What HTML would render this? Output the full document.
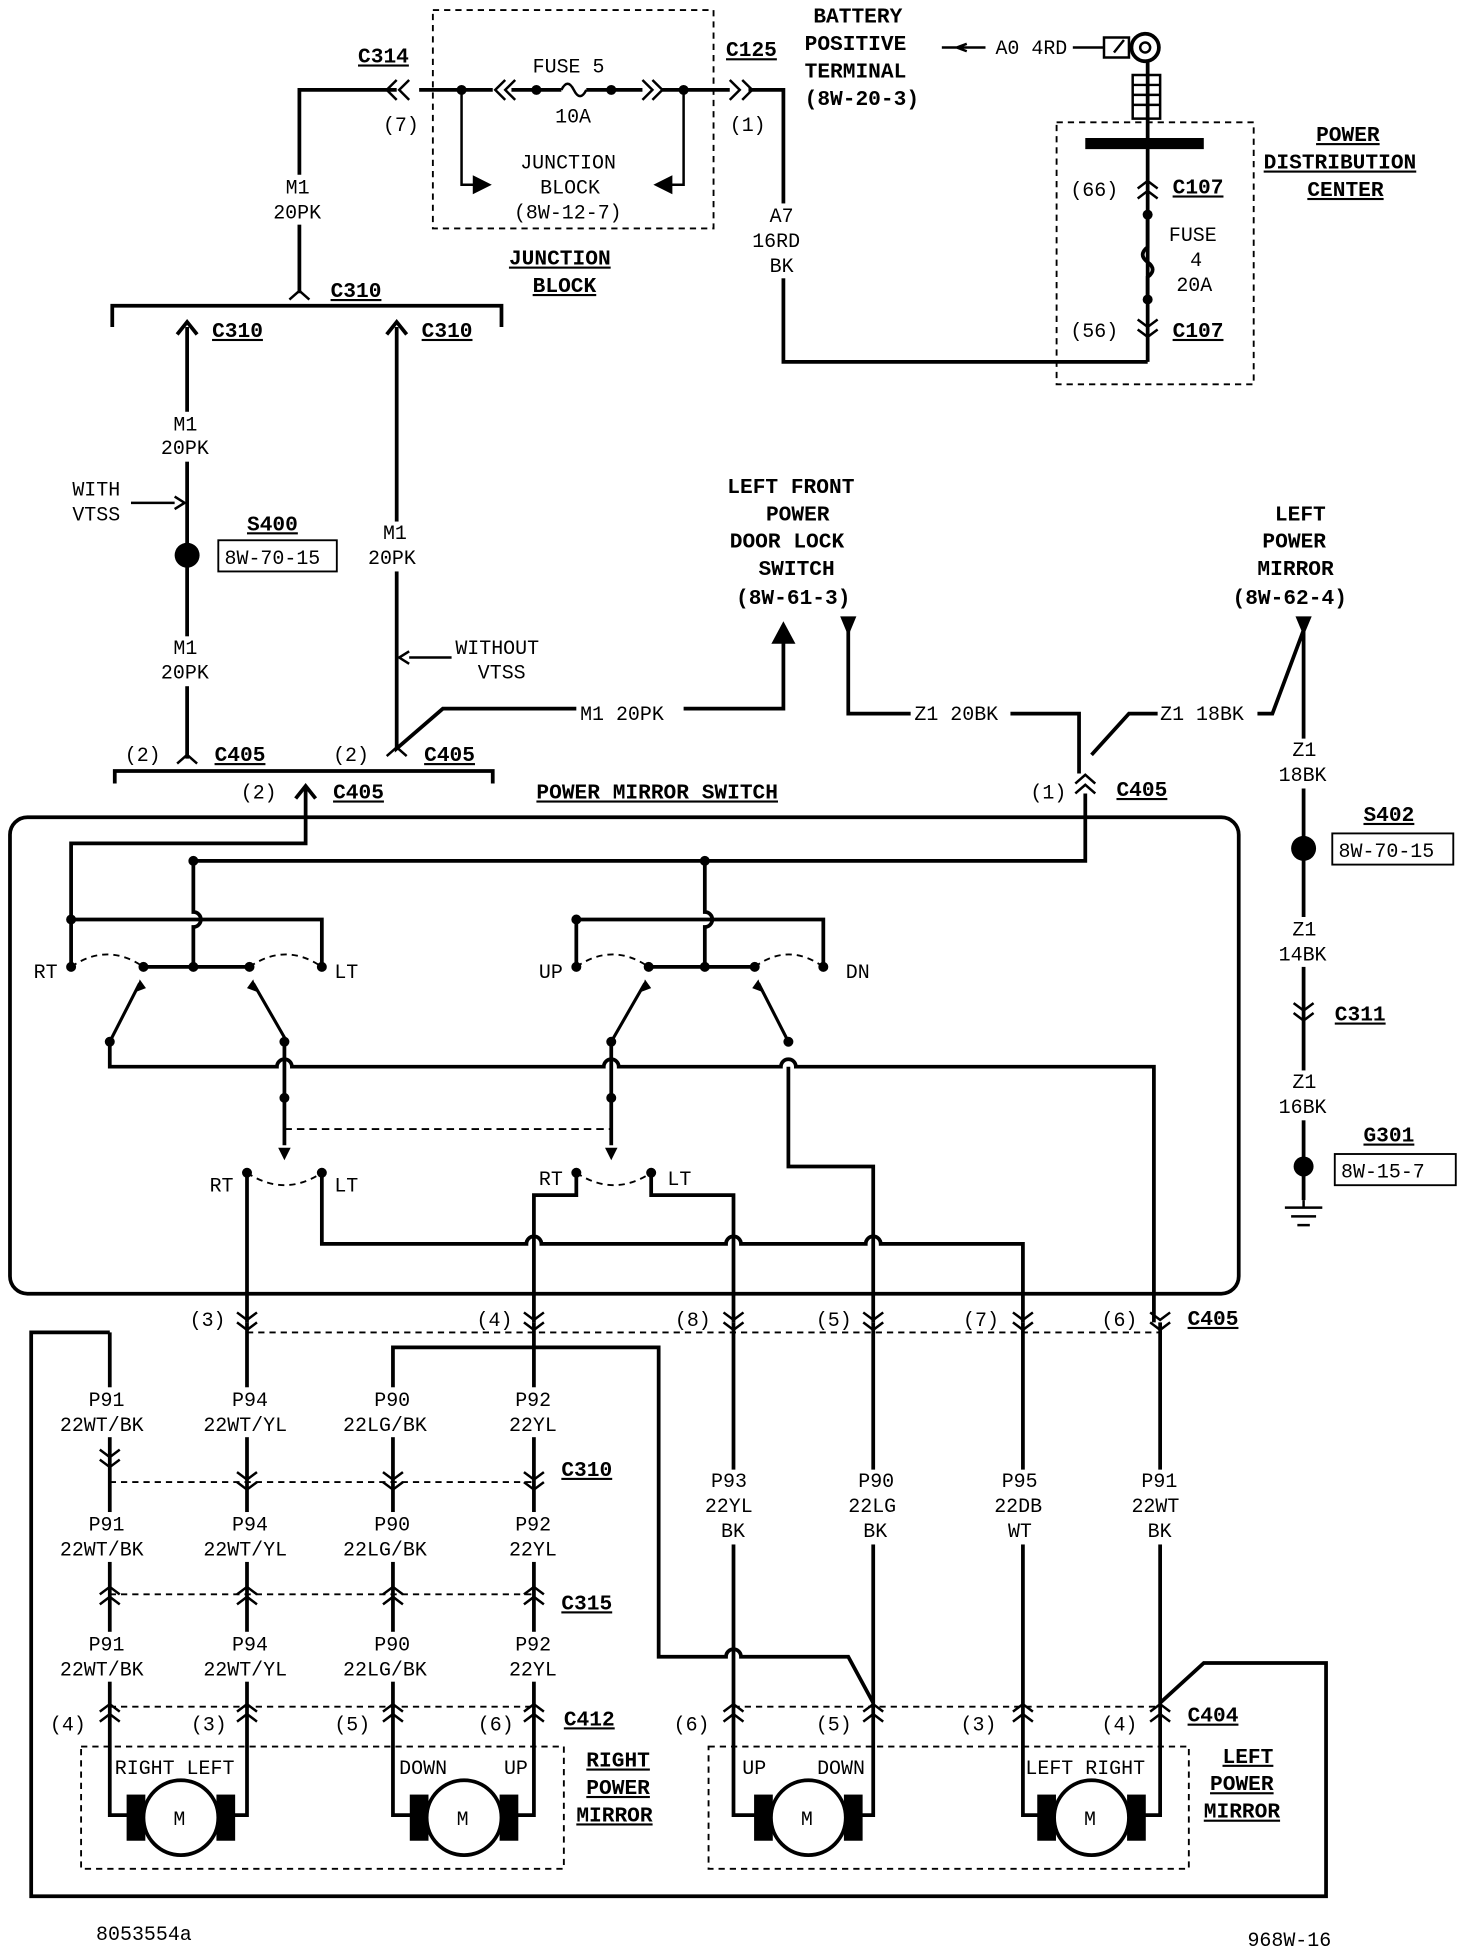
<!DOCTYPE html>
<html><head><meta charset="utf-8"><style>
html,body{margin:0;padding:0;background:#fff}
svg{display:block}
text{font-family:"Liberation Mono",monospace;font-size:16px;fill:#000}
.b{font-weight:bold;font-size:17px}
.u{text-decoration:underline}
</style></head><body>
<svg width="1472" height="1950" viewBox="0 0 1180 1563" xmlns="http://www.w3.org/2000/svg">
<defs>
<path id="cv" d="M-8 -6 l8 6 l8 -6 M-8 2 l8 6 l8 -6" fill="none" stroke="#000" stroke-width="2"/>
<path id="ch" d="M-8 4 l8 -6 l8 6 M-8 12 l8 -6 l8 6" fill="none" stroke="#000" stroke-width="2"/>
<g id="wb"><rect x="-13" y="1112" width="26" height="40"/><rect x="-13" y="1212" width="26" height="40"/><rect x="-13" y="1308" width="26" height="40"/></g>
</defs>
<g fill="none" stroke="#000" stroke-width="3">
<path d="M240 235 V72 H318 M336 72 H395 M410 72 H450 M470 72 H515 M530 72 H585 M600 72 H628 V290 H920"/>
<path d="M318 64 l-8 8 l8 8 M328 64 l-8 8 l8 8 M585 64 l8 8 l-8 8 M595 64 l8 8 l-8 8" stroke-width="2"/>
<path d="M405 64 l-8 8 l8 8 M413 64 l-8 8 l8 8 M515 64 l8 8 l-8 8 M523 64 l8 8 l-8 8" stroke-width="2"/>
<path d="M450 72 q5 -10 10 0 q5 10 10 0" stroke-width="2"/>
<path d="M370 72 V148 H385 M548 72 V148 H533" stroke-width="2"/>
<rect x="347" y="8" width="225" height="175" stroke-width="1.5" stroke-dasharray="5,4"/>
<path d="M90 262 V245 H402 V262"/>
<path d="M232 240 l8 -7 l8 7" stroke-width="2"/>
<path d="M150 608 V262 M318 600 V262 L318 600 L355 568 H628 V510 M680 505 V572 H865 V620 M1045 505 L1020 572 H905 L875 605 M1045 505 V962"/>
<path d="M142 268 l8 -10 l8 10 M310 268 l8 -10 l8 10"/>
<path d="M92 628 V618 H395 V628"/>
<path d="M142 612 l8 -7 l8 7 M310 606 l8 -7 l8 7" stroke-width="2"/>
<path d="M237 640 l8 -10 l8 10"/>
<path d="M245 632 V676 H57 V775"/>
<path d="M862 628 l8 -7 l8 7 M862 636 l8 -7 l8 7" stroke-width="2"/>
<path d="M870 636 V690 H155 V731 a6 6 0 0 1 0 12 V775 M565 690 V731 a6 6 0 0 1 0 12 V775"/>
<path d="M57 737 H258 V775 M462 775 V737 H660 V775"/>
<path d="M115 775 H200 M520 775 H605"/>
<rect x="8" y="655" width="985" height="382" rx="14"/>
<path d="M88 835 L112 788 M230 835 L203 788 M490 835 L517 788 M632 835 L608 788" stroke-width="2.5"/>
<path d="M88 835 V855 H222 a6 6 0 0 1 12 0 H484 a6 6 0 0 1 12 0 H626 a6 6 0 0 1 12 0 H925 V1060"/>
<path d="M228 835 V918 M490 835 V918 M632 855 V935 H700 V1060"/>
<path d="M228 905 H490" stroke-width="1.5" stroke-dasharray="6,4"/>
<path d="M198 940 V1060 M258 940 V997 H422 a6 6 0 0 1 12 0 H582 a6 6 0 0 1 12 0 H694 a6 6 0 0 1 12 0 H820 V1060 M462 940 V958 H428 V1060 M522 940 V958 H588 V1060"/>
<g stroke-width="1.5" stroke-dasharray="5,4">
<path d="M57 775 Q86 755 115 775 M200 775 Q229 755 258 775 M462 775 Q491 755 520 775 M605 775 Q632 755 660 775 M198 940 Q228 960 258 940 M462 940 Q492 960 522 940"/>
<path d="M198 1068 H930 M88 1188 H428 M88 1278 H428 M88 1368 H428 M588 1368 H930"/>
<rect x="65" y="1400" width="387" height="98"/>
<rect x="568" y="1400" width="385" height="98"/>
<rect x="847" y="98" width="158" height="210"/>
</g>
<path d="M88 1068 H25 V1520 H1063 V1333 H965 L930 1365 M428 1080 H315 V1455 H335 M428 1080 H528 V1328 H582 a6 6 0 0 1 12 0 H680 L700 1365"/>
<path d="M88 1068 V1455 H105 M198 1060 V1455 H185 M428 1060 V1455 H410 M588 1060 V1455 H608 M700 1060 V1455 H690 M820 1060 V1455 H835 M930 1060 V1455 H915"/>
<path d="M920 50 V290"/>
<path d="M870 115 H965" stroke-width="9"/>
<path d="M920 172 V198 q-8 6 0 12 q8 6 0 12 V240" />
</g>
<!-- label gaps -->
<g fill="#fff">
<rect x="225" y="140" width="30" height="40"/>
<rect x="135" y="330" width="30" height="40"/><rect x="135" y="510" width="30" height="40"/>
<rect x="303" y="418" width="30" height="40"/>
<rect x="613" y="163" width="30" height="60"/>
<rect x="1030" y="592" width="30" height="40"/><rect x="1030" y="735" width="30" height="40"/><rect x="1030" y="858" width="30" height="40"/>
<rect x="462" y="564" width="86" height="14"/><rect x="730" y="564" width="80" height="14"/><rect x="928" y="564" width="80" height="14"/>
<use href="#wb" x="88"/><use href="#wb" x="198"/><use href="#wb" x="315"/><use href="#wb" x="428"/>
<rect x="575" y="1178" width="26" height="60"/><rect x="687" y="1178" width="26" height="60"/><rect x="807" y="1178" width="26" height="60"/><rect x="917" y="1178" width="26" height="60"/>
</g>
<g fill="none" stroke="#000" stroke-width="2">
<use href="#cv" x="198" y="1058"/><use href="#cv" x="428" y="1058"/><use href="#cv" x="588" y="1058"/><use href="#cv" x="700" y="1058"/><use href="#cv" x="820" y="1058"/><use href="#cv" x="930" y="1058"/>
<use href="#cv" x="88" y="1168"/><use href="#cv" x="198" y="1186"/><use href="#cv" x="315" y="1186"/><use href="#cv" x="428" y="1186"/>
<use href="#ch" x="88" y="1274"/><use href="#ch" x="198" y="1274"/><use href="#ch" x="315" y="1274"/><use href="#ch" x="428" y="1274"/>
<use href="#ch" x="88" y="1368"/><use href="#ch" x="198" y="1368"/><use href="#ch" x="315" y="1368"/><use href="#ch" x="428" y="1368"/>
<use href="#ch" x="588" y="1368"/><use href="#ch" x="700" y="1368"/><use href="#ch" x="820" y="1368"/><use href="#ch" x="930" y="1368"/>
<use href="#ch" x="920" y="147"/><use href="#cv" x="920" y="262"/>
<use href="#cv" x="1045" y="810"/>
<path d="M105 403 H140 M140 398 l8 5 l-8 5 M362 527 H328 M328 522 l-8 5 l8 5 M755 38 H790 M775 35 l-8 3 l8 3"/>
<path d="M620 515 l8 -15 l8 15 Z M675 495 h10 l-5 12 Z M1040 495 h10 l-5 12 Z" fill="#000"/>
<path d="M380 142 l12 6 l-12 6 Z M538 142 l-12 6 l12 6 Z" fill="#000"/>
<path d="M1045 962 V968 M1030 968 H1060 M1035 975 H1055 M1040 982 H1050"/>
<path d="M860 38 H885 M885 30 h20 v16 h-20 z M893 42 l8 -10" stroke-width="2"/>
<circle cx="918" cy="38" r="11" stroke-width="3"/><circle cx="918" cy="38" r="4"/>
<path d="M908 60 h22 v35 h-22 z M908 68 h22 M908 76 h22 M908 84 h22"/>
</g>
<g fill="#000">
<circle cx="150" cy="445" r="10"/><circle cx="1045" cy="680" r="10"/><circle cx="1045" cy="935" r="8"/>
<circle cx="370" cy="72" r="4"/><circle cx="430" cy="72" r="4"/><circle cx="490" cy="72" r="4"/><circle cx="548" cy="72" r="4"/>
<circle cx="920" cy="172" r="4"/><circle cx="920" cy="240" r="4"/>
<circle cx="57" cy="775" r="4"/><circle cx="115" cy="775" r="4"/><circle cx="155" cy="775" r="4"/><circle cx="200" cy="775" r="4"/><circle cx="258" cy="775" r="4"/>
<circle cx="462" cy="775" r="4"/><circle cx="520" cy="775" r="4"/><circle cx="565" cy="775" r="4"/><circle cx="605" cy="775" r="4"/><circle cx="660" cy="775" r="4"/>
<circle cx="57" cy="737" r="4"/><circle cx="155" cy="690" r="4"/><circle cx="462" cy="737" r="4"/><circle cx="565" cy="690" r="4"/>
<circle cx="88" cy="835" r="4"/><circle cx="228" cy="835" r="4"/><circle cx="490" cy="835" r="4"/><circle cx="632" cy="835" r="4"/>
<circle cx="228" cy="880" r="4"/><circle cx="490" cy="880" r="4"/>
<circle cx="198" cy="940" r="4"/><circle cx="258" cy="940" r="4"/><circle cx="462" cy="940" r="4"/><circle cx="522" cy="940" r="4"/>
<path d="M112 785 l-3 10 l8 -3 Z M203 785 l3 10 l-8 -3 Z M517 785 l-3 10 l8 -3 Z M608 785 l3 10 l-8 -3 Z M228 930 l-5 -10 h10 Z M490 930 l-5 -10 h10 Z"/>
</g>
<g stroke="#000" stroke-width="3" fill="#fff">
<rect x="103" y="1440" width="12" height="34" fill="#000"/><rect x="175" y="1440" width="12" height="34" fill="#000"/><circle cx="145" cy="1457" r="30"/>
<rect x="330" y="1440" width="12" height="34" fill="#000"/><rect x="402" y="1440" width="12" height="34" fill="#000"/><circle cx="372" cy="1457" r="30"/>
<rect x="606" y="1440" width="12" height="34" fill="#000"/><rect x="678" y="1440" width="12" height="34" fill="#000"/><circle cx="648" cy="1457" r="30"/>
<rect x="833" y="1440" width="12" height="34" fill="#000"/><rect x="905" y="1440" width="12" height="34" fill="#000"/><circle cx="875" cy="1457" r="30"/>
</g>
<g>
<text x="139" y="1463">M</text><text x="366" y="1463">M</text><text x="642" y="1463">M</text><text x="869" y="1463">M</text>
<text class="b u" x="287" y="50">C314</text><text x="307" y="105">(7)</text>
<text x="427" y="58">FUSE 5</text><text x="445" y="98">10A</text>
<text x="417" y="135">JUNCTION</text><text x="433" y="155">BLOCK</text><text x="412" y="175">(8W-12-7)</text>
<text class="b u" x="408" y="212">JUNCTION</text><text class="b u" x="427" y="234">BLOCK</text>
<text class="b u" x="582" y="45">C125</text><text x="585" y="105">(1)</text>
<text class="b" x="652" y="18">BATTERY</text><text class="b" x="645" y="40">POSITIVE</text><text class="b" x="645" y="62">TERMINAL</text><text class="b" x="645" y="84">(8W-20-3)</text>
<text x="798" y="43">A0 4RD</text>
<text x="617" y="178">A7</text><text x="603" y="198">16RD</text><text x="617" y="218">BK</text>
<text class="b u" x="1055" y="113">POWER</text><text class="b u" x="1013" y="135">DISTRIBUTION</text><text class="b u" x="1048" y="157">CENTER</text>
<text x="858" y="157">(66)</text><text class="b u" x="940" y="155">C107</text>
<text x="937" y="193">FUSE</text><text x="954" y="213">4</text><text x="943" y="233">20A</text>
<text x="858" y="270">(56)</text><text class="b u" x="940" y="270">C107</text>
<text x="229" y="155">M1</text><text x="219" y="175">20PK</text>
<text class="b u" x="265" y="238">C310</text><text class="b u" x="170" y="270">C310</text><text class="b u" x="338" y="270">C310</text>
<text x="139" y="345">M1</text><text x="129" y="364">20PK</text>
<text x="58" y="397">WITH</text><text x="58" y="417">VTSS</text>
<text class="b u" x="198" y="425">S400</text>
<rect x="175" y="433" width="95" height="25" fill="none" stroke="#000" stroke-width="1.5"/><text x="180" y="452">8W-70-15</text>
<text x="307" y="432">M1</text><text x="295" y="452">20PK</text>
<text x="365" y="524">WITHOUT</text><text x="383" y="544">VTSS</text>
<text x="139" y="524">M1</text><text x="129" y="544">20PK</text>
<text x="465" y="577">M1 20PK</text><text x="733" y="577">Z1 20BK</text><text x="930" y="577">Z1 18BK</text>
<text class="b" x="583" y="395">LEFT FRONT</text><text class="b" x="614" y="417">POWER</text><text class="b" x="585" y="439">DOOR LOCK</text><text class="b" x="608" y="461">SWITCH</text><text class="b" x="590" y="484">(8W-61-3)</text>
<text class="b" x="1022" y="417">LEFT</text><text class="b" x="1012" y="439">POWER</text><text class="b" x="1008" y="461">MIRROR</text><text class="b" x="988" y="484">(8W-62-4)</text>
<text x="100" y="610">(2)</text><text class="b u" x="172" y="610">C405</text><text x="267" y="610">(2)</text><text class="b u" x="340" y="610">C405</text>
<text x="193" y="640">(2)</text><text class="b u" x="267" y="640">C405</text>
<text class="b u" x="430" y="640">POWER MIRROR SWITCH</text>
<text x="826" y="640">(1)</text><text class="b u" x="895" y="638">C405</text>
<text x="1036" y="606">Z1</text><text x="1025" y="626">18BK</text>
<text class="b u" x="1093" y="658">S402</text>
<rect x="1068" y="668" width="97" height="25" fill="none" stroke="#000" stroke-width="1.5"/><text x="1073" y="687">8W-70-15</text>
<text x="1036" y="750">Z1</text><text x="1025" y="770">14BK</text><text class="b u" x="1070" y="818">C311</text>
<text x="1036" y="872">Z1</text><text x="1025" y="892">16BK</text>
<text class="b u" x="1093" y="915">G301</text>
<rect x="1070" y="925" width="97" height="25" fill="none" stroke="#000" stroke-width="1.5"/><text x="1075" y="944">8W-15-7</text>
<text x="27" y="784">RT</text><text x="268" y="784">LT</text><text x="432" y="784">UP</text><text x="678" y="784">DN</text>
<text x="168" y="955">RT</text><text x="268" y="955">LT</text><text x="432" y="950">RT</text><text x="535" y="950">LT</text>
<text x="152" y="1063">(3)</text><text x="382" y="1063">(4)</text><text x="541" y="1063">(8)</text><text x="654" y="1063">(5)</text><text x="772" y="1063">(7)</text><text x="883" y="1063">(6)</text><text class="b u" x="952" y="1062">C405</text>
<g id="g1"><text x="71" y="1127">P91</text><text x="48" y="1147">22WT/BK</text><text x="186" y="1127">P94</text><text x="163" y="1147">22WT/YL</text><text x="300" y="1127">P90</text><text x="275" y="1147">22LG/BK</text><text x="413" y="1127">P92</text><text x="408" y="1147">22YL</text></g>
<use href="#g1" y="100"/><use href="#g1" y="196"/>
<text class="b u" x="450" y="1183">C310</text><text class="b u" x="450" y="1290">C315</text><text class="b u" x="452" y="1383">C412</text>
<text x="570" y="1192">P93</text><text x="565" y="1212">22YL</text><text x="578" y="1232">BK</text>
<text x="688" y="1192">P90</text><text x="680" y="1212">22LG</text><text x="692" y="1232">BK</text>
<text x="803" y="1192">P95</text><text x="797" y="1212">22DB</text><text x="808" y="1232">WT</text>
<text x="915" y="1192">P91</text><text x="907" y="1212">22WT</text><text x="920" y="1232">BK</text>
<text x="40" y="1387">(4)</text><text x="153" y="1387">(3)</text><text x="268" y="1387">(5)</text><text x="383" y="1387">(6)</text>
<text x="540" y="1387">(6)</text><text x="654" y="1387">(5)</text><text x="770" y="1387">(3)</text><text x="883" y="1387">(4)</text><text class="b u" x="952" y="1380">C404</text>
<text x="92" y="1422">RIGHT LEFT</text><text x="320" y="1422">DOWN</text><text x="404" y="1422">UP</text>
<text x="595" y="1422">UP</text><text x="655" y="1422">DOWN</text><text x="822" y="1422">LEFT RIGHT</text>
<text class="b u" x="470" y="1416">RIGHT</text><text class="b u" x="470" y="1438">POWER</text><text class="b u" x="462" y="1460">MIRROR</text>
<text class="b u" x="980" y="1413">LEFT</text><text class="b u" x="970" y="1435">POWER</text><text class="b u" x="965" y="1457">MIRROR</text>
<text x="77" y="1555">8053554a</text><text x="1000" y="1560">968W-16</text>
</g>
</svg>
</body></html>
